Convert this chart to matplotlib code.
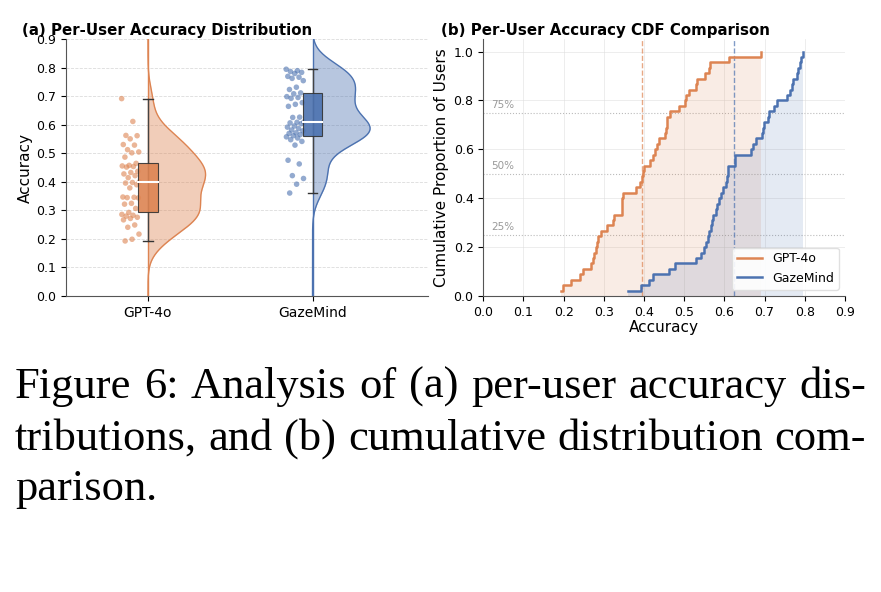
import numpy as np
import matplotlib
matplotlib.use('Agg')
import matplotlib.pyplot as plt

# per-user accuracy (sorted)
models = ['GPT-4o', 'GazeMind']
colors = ['#DD8452', '#4C72B0']

gpt4o_acc = [0.193, 0.199, 0.217, 0.241, 0.249, 0.267, 0.272, 0.276, 0.280, 0.283,
             0.286, 0.293, 0.307, 0.322, 0.325, 0.344, 0.345, 0.346, 0.347, 0.379,
             0.390, 0.396, 0.398, 0.400, 0.415, 0.422, 0.428, 0.433, 0.437, 0.452,
             0.454, 0.456, 0.458, 0.465, 0.487, 0.502, 0.505, 0.513, 0.529, 0.531,
             0.551, 0.562, 0.563, 0.612, 0.692]
gazemind_acc = [0.361, 0.392, 0.412, 0.422, 0.463, 0.476, 0.529, 0.542, 0.548, 0.554,
                0.558, 0.562, 0.566, 0.570, 0.572, 0.579, 0.582, 0.587, 0.592, 0.596,
                0.604, 0.607, 0.609, 0.610, 0.626, 0.627, 0.665, 0.672, 0.678, 0.693,
                0.696, 0.699, 0.709, 0.712, 0.724, 0.732, 0.755, 0.763, 0.767, 0.770,
                0.780, 0.784, 0.787, 0.790, 0.795]
all_acc = [np.array(gpt4o_acc), np.array(gazemind_acc)]

pct_levels = [0.25, 0.5, 0.75]
pct_labels = ['25%', '50%', '75%']

caption_lines = ['Figure 6: Analysis of (a) per-user accuracy dis-',
                 'tributions, and (b) cumulative distribution com-',
                 'parison.']

W, H = 881, 592
fig = plt.figure(figsize=(W / 100, H / 100), dpi=100)
plt.rcParams['font.family'] = 'DejaVu Sans'


def kde(data, grid, adjust=1.0):
    bw = adjust * data.std(ddof=1) * len(data) ** (-1 / 5)
    z = (grid[:, None] - data[None, :]) / bw
    return np.exp(-0.5 * z ** 2).sum(axis=1) / (len(data) * bw * np.sqrt(2 * np.pi))


# ---------------- (a) raincloud ----------------
ax1 = fig.add_axes([65.7 / W, 1 - 296 / H, (427.7 - 65.7) / W, (296 - 39.3) / H])
grid = np.linspace(0, 0.9, 300)
for i, (acc, c) in enumerate(zip(all_acc, colors)):
    dens = kde(acc, grid, adjust=0.9)
    half = dens / dens.max() * 0.35
    ax1.fill_betweenx(grid, i, i + half, color=c, alpha=0.4, lw=0, zorder=1)
    ax1.plot(i + half, grid, color=c, lw=1, zorder=2)
    ax1.plot([i, i], [0, 0.9], color=c, lw=1, zorder=2)

    q1, med, q3 = np.percentile(acc, [25, 50, 75])
    lo, hi = acc.min(), acc.max()
    ax1.plot([i, i], [lo, hi], color='#444444', lw=1, zorder=3)
    ax1.plot([i - 0.03, i + 0.03], [lo, lo], color='#333333', lw=1, zorder=3)
    ax1.plot([i - 0.03, i + 0.03], [hi, hi], color='#333333', lw=1, zorder=3)
    ax1.add_patch(plt.Rectangle((i - 0.06, q1), 0.12, q3 - q1, facecolor=c,
                                edgecolor='#333333', lw=0.8, alpha=0.9, zorder=4))
    ax1.plot([i - 0.06, i + 0.06], [med, med], color='white', lw=1.5, zorder=5)

    # deterministic jitter to the left of the box
    frac = (np.arange(len(acc)) * 0.618034) % 1
    ax1.scatter(i - 0.16 + 0.11 * frac, acc[::-1], s=16, color=c, alpha=0.6,
                edgecolor='none', zorder=3)

ax1.set_xlim(-0.5, 1.7)
ax1.set_ylim(0, 0.9)
ax1.set_xticks([0, 1])
ax1.set_xticklabels(models, fontsize=10)
ax1.set_yticks(np.arange(0, 0.91, 0.1))
ax1.tick_params(axis='y', labelsize=9)
ax1.set_ylabel('Accuracy', fontsize=11, labelpad=2)
ax1.yaxis.grid(True, ls='--', color='#cccccc', lw=0.6, alpha=0.7)
ax1.set_axisbelow(True)
for s in ['top', 'right']:
    ax1.spines[s].set_visible(False)
for s in ['left', 'bottom']:
    ax1.spines[s].set_color('#555555')
fig.text(22 / W, 1 - 35 / H, '(a) Per-User Accuracy Distribution', fontsize=10.8,
         fontweight='bold')

# ---------------- (b) CDF ----------------
ax2 = fig.add_axes([483.3 / W, 1 - 296 / H, (845 - 483.3) / W, (296 - 39.3) / H])
for acc, c, name in zip(all_acc, colors, models):
    x = np.sort(acc)
    y = np.arange(1, len(x) + 1) / len(x)
    ax2.step(x, y, where='post', color=c, lw=1.8, label=name, zorder=3)
    ax2.fill_between(x, y, step='post', color=c, alpha=0.15, lw=0, zorder=1)
    ax2.axvline(x.mean(), color=c, ls='--', lw=1, alpha=0.7, zorder=2)

for lv, lb in zip(pct_levels, pct_labels):
    ax2.axhline(lv, color='#bbbbbb', ls=':', lw=0.8, zorder=0)
    ax2.text(0.02, lv + 0.02, lb, color='#999999', fontsize=7.5)

ax2.set_xlim(0, 0.9)
ax2.set_ylim(0, 1.05)
ax2.set_xticks(np.arange(0, 0.91, 0.1))
ax2.set_yticks(np.arange(0, 1.01, 0.2))
ax2.tick_params(labelsize=9)
ax2.set_xlabel('Accuracy', fontsize=11, labelpad=1)
ax2.set_ylabel('Cumulative Proportion of Users', fontsize=11, labelpad=3)
ax2.grid(True, color='#dddddd', lw=0.6, alpha=0.6)
ax2.set_axisbelow(True)
for s in ['top', 'right']:
    ax2.spines[s].set_visible(False)
for s in ['left', 'bottom']:
    ax2.spines[s].set_color('#555555')
ax2.legend(loc='lower right', fontsize=9, framealpha=0.9, edgecolor='#dddddd')
fig.text(441 / W, 1 - 35 / H, '(b) Per-User Accuracy CDF Comparison', fontsize=10.8,
         fontweight='bold')

# ---------------- caption (justified) ----------------
renderer = fig.canvas.get_renderer()
x0, x1 = 15, 866
baselines = [398, 450, 500]
cap_kw = dict(fontsize=32, family='Liberation Serif', va='baseline')
for k, (line, yb) in enumerate(zip(caption_lines, baselines)):
    if k == len(caption_lines) - 1:
        fig.text(x0 / W, 1 - yb / H, line, **cap_kw)
        continue
    words = line.split(' ')
    arts = [fig.text(0, 1 - yb / H, w, **cap_kw) for w in words]
    widths = [a.get_window_extent(renderer).width for a in arts]
    gap = (x1 - x0 - sum(widths)) / (len(words) - 1)
    xx = x0
    for a, w in zip(arts, widths):
        a.set_x(xx / W)
        xx += w + gap

fig.savefig('out.png', dpi=100)
